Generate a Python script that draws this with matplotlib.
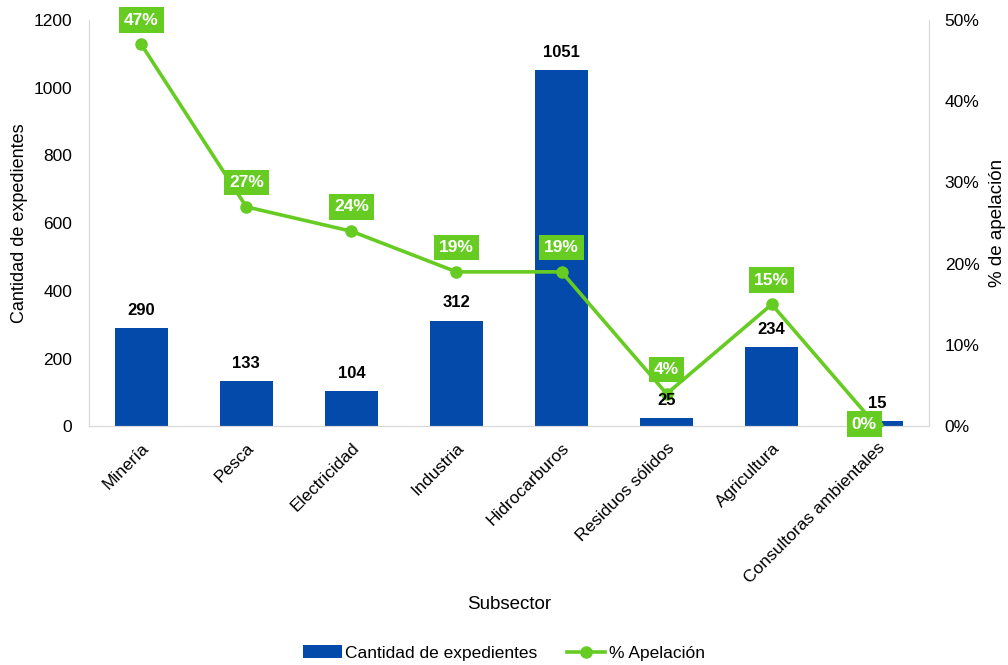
import numpy as np
import matplotlib.pyplot as plt
from matplotlib.ticker import FuncFormatter

plt.rcParams['font.family'] = ['Liberation Sans', 'DejaVu Sans']

subsectors = ['Minería', 'Pesca', 'Electricidad', 'Industria', 'Hidrocarburos',
              'Residuos sólidos', 'Agricultura', 'Consultoras ambientales']
expedientes = [290, 133, 104, 312, 1051, 25, 234, 15]
apelacion = [47, 27, 24, 19, 19, 4, 15, 0]

blue = '#034AAA'
green = '#66CC22'

fig = plt.figure(figsize=(10.08, 6.65), dpi=100)
ax = fig.add_axes([0.088, 0.359, 0.834, 0.611])
ax2 = ax.twinx()

x = np.arange(len(subsectors))
ax.bar(x, expedientes, width=0.5, color=blue, label='Cantidad de expedientes', zorder=2)

ax.set_ylim(0, 1200)
ax.set_yticks(range(0, 1201, 200))
ax.set_xlim(-0.5, len(subsectors) - 0.5)
ax.set_xticks(x)
ax.set_xticklabels(subsectors, rotation=45, ha='right', rotation_mode='anchor', fontsize=12.5)
ax.tick_params(axis='y', length=0, labelsize=12.5, pad=12)
ax.tick_params(axis='x', length=0, pad=10)
ax.set_ylabel('Cantidad de expedientes', fontsize=13, labelpad=4)
ax.set_xlabel('Subsector', fontsize=13.5, labelpad=7)

ax2.plot(x, apelacion, color=green, lw=2.6, marker='o', ms=8, label='% Apelación', zorder=3)
ax2.set_ylim(0, 50)
ax2.set_yticks(range(0, 51, 10))
ax2.yaxis.set_major_formatter(FuncFormatter(lambda v, p: f'{int(v)}%'))
ax2.tick_params(axis='y', length=0, labelsize=12.5, pad=11)
ax2.set_ylabel('% de apelación', fontsize=13.5, labelpad=7)

# bar value labels drawn on top of the line
for xi, v in zip(x, expedientes):
    ax2.annotate(str(v), (xi, v), xycoords=ax.transData, xytext=(0, 9.5),
                 textcoords='offset points', ha='center', va='baseline',
                 fontsize=12, fontweight='bold', zorder=6)

for xi, v in zip(x, apelacion):
    off = (-9, 1.5) if v == 0 else (0, 17.5)
    ax2.annotate(f'{v}%', (xi, v), xytext=off, textcoords='offset points',
                 ha='center', va='center', fontsize=12.5, fontweight='bold', color='white',
                 bbox=dict(boxstyle='square,pad=0.3', fc=green, ec='none'), zorder=7)

for a in (ax, ax2):
    a.spines['top'].set_visible(False)
    for s in ('left', 'right', 'bottom'):
        a.spines[s].set_color('#D9D9D9')

h1, l1 = ax.get_legend_handles_labels()
h2, l2 = ax2.get_legend_handles_labels()
fig.legend(h1 + h2, l1 + l2, loc='center', bbox_to_anchor=(0.5, 0.018), ncol=2,
           frameon=False, fontsize=12.5, handlelength=2.2, handletextpad=0.2, columnspacing=1.7)

fig.savefig('out.png', dpi=100)
